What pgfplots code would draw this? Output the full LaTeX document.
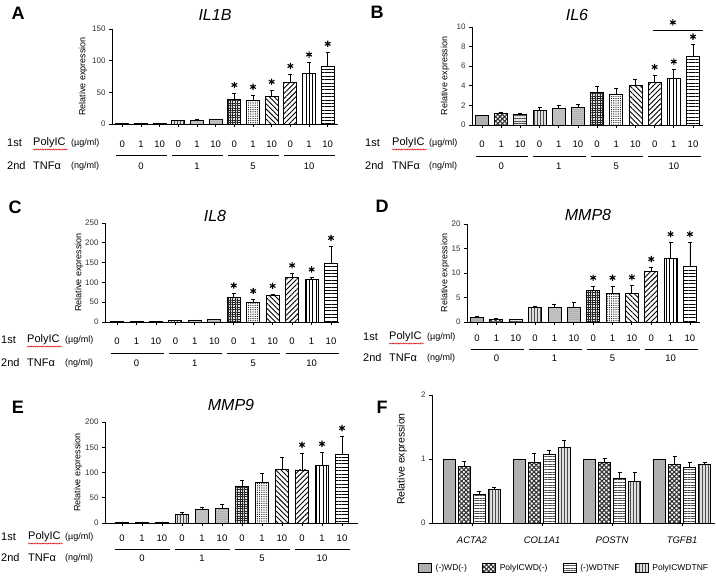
\documentclass[border=0pt]{standalone}
\usepackage{fontspec}
\setmainfont{Liberation Sans}
\usepackage{pgfplots}
\pgfplotsset{compat=1.18}
\usetikzlibrary{patterns.meta, decorations.pathmorphing}

\tikzset{
  s0/.style={fill=gray!62},
  s1/.style={preaction={fill=white}, pattern color=black!80, pattern={Hatch[angle=45,distance=3.2pt,line width=1.1pt]}},
  s2/.style={preaction={fill=gray!20}, pattern color=gray!60!black, pattern={Lines[angle=0,distance=2.6pt,line width=0.6pt]}},
  s3/.style={preaction={fill=gray!25}, pattern color=gray!60!black, pattern={Lines[angle=90,distance=3pt,line width=0.6pt]}},
  s4/.style={fill=gray!50},
  s5/.style={preaction={fill=gray!35}, pattern color=gray!40!black, pattern={Dots[distance=2pt,radius=0.5pt]}},
  s6/.style={preaction={fill=gray!20}, pattern color=gray!30!black, pattern={Hatch[angle=0,distance=2.4pt,line width=0.6pt]}},
  s7/.style={preaction={fill=white}, pattern color=black, pattern={Dots[distance=2.2pt,radius=0.6pt]}},
  s8/.style={preaction={fill=white}, pattern color=black, pattern={Lines[angle=-45,distance=3.6pt,line width=0.9pt]}},
  s9/.style={preaction={fill=white}, pattern color=black, pattern={Lines[angle=45,distance=3.6pt,line width=0.9pt]}},
  s10/.style={preaction={fill=white}, pattern color=black, pattern={Lines[angle=90,distance=3.4pt,line width=0.9pt]}},
  s11/.style={preaction={fill=white}, pattern color=black, pattern={Lines[angle=0,distance=3.4pt,line width=0.9pt]}},
  lab/.style={font=\fontsize{18}{20}\selectfont\bfseries},
  ttl/.style={font=\fontsize{16}{18}\selectfont\itshape},
  rowa/.style={font=\fontsize{11}{12}\selectfont, anchor=west, inner sep=0pt},
  rowb/.style={font=\fontsize{9}{10}\selectfont, anchor=west, inner sep=0pt},
  wavy/.style={red!85!black, line width=0.45pt, decorate, decoration={snake, amplitude=0.55pt, segment length=2.2pt}},
}

\pgfplotsset{
  /pgf/number format/assume math mode=true,
  base/.style={
    scale only axis, clip=false, anchor=south west,
    axis lines=left, axis line style={-, line width=0.9pt},
    every outer x axis line/.append style={-},
    every outer y axis line/.append style={-},
    tick align=outside, major tick length=3pt,
    tick style={black, line width=0.8pt},
    ymin=0, enlargelimits=false,
    yticklabel style={font=\fontsize{8}{9}\selectfont, text=black!80},
    ylabel={Relative expression},
    ylabel style={font=\fontsize{9}{10}\selectfont},
  },
  panel/.style={base,
    xtick={0,...,11},
    xticklabels={0,1,10,0,1,10,0,1,10,0,1,10},
    xticklabel style={font=\fontsize{9.5}{10}\selectfont, anchor=center, yshift=-16pt},
  },
  ylpos/.style={ylabel style={at={(axis description cs:#1,0.5)}, anchor=center}},
  fe/.style={error bars/y dir=plus, error bars/y explicit,
    error bars/error bar style={line width=0.8pt, black}},
  bb/.style={ybar, bar width=13pt, bar shift=0pt, draw=black, line width=0.9pt, fe},
  fb/.style={draw=black, line width=0.9pt,
    legend image code/.code={\draw[##1] (0pt,-4.5pt) rectangle (13pt,4.5pt);}},
  star/.style={only marks, mark=asterisk, mark size=3.2pt, black, line width=1.1pt, mark options={yshift=8pt}},
}

% group lines and TNF doses under the bars
\newcommand{\grows}[2]{%
  \draw[line width=0.8pt] ([yshift=-#1pt]axis cs:-0.33,0) -- ([yshift=-#1pt]axis cs:2.4,0);
  \draw[line width=0.8pt] ([yshift=-#1pt]axis cs:2.67,0) -- ([yshift=-#1pt]axis cs:5.4,0);
  \draw[line width=0.8pt] ([yshift=-#1pt]axis cs:5.67,0) -- ([yshift=-#1pt]axis cs:8.4,0);
  \draw[line width=0.8pt] ([yshift=-#1pt]axis cs:8.67,0) -- ([yshift=-#1pt]axis cs:11.4,0);
  \node[font=\fontsize{9.5}{10}\selectfont] at ([yshift=-#2pt]axis cs:1,0) {0};
  \node[font=\fontsize{9.5}{10}\selectfont] at ([yshift=-#2pt]axis cs:4,0) {1};
  \node[font=\fontsize{9.5}{10}\selectfont] at ([yshift=-#2pt]axis cs:7,0) {5};
  \node[font=\fontsize{9.5}{10}\selectfont] at ([yshift=-#2pt]axis cs:10,0) {10};
}

% row captions on the left
\newcommand{\rowlabels}[5]{%
  \node[rowa] at (#1pt,#4pt) {1st};
  \node[rowa] at (#2pt,#4pt) {PolyIC};
  \draw[wavy] ({#2pt},{#4pt-6.5pt}) -- ({#2pt+35pt},{#4pt-6.5pt});
  \node[rowb] at (#3pt,#4pt) {(µg/ml)};
  \node[rowa] at (#1pt,#5pt) {2nd};
  \node[rowa] at (#2pt,#5pt) {TNFα};
  \node[rowb] at (#3pt,#5pt) {(ng/ml)};
}

\begin{document}
\begin{tikzpicture}
\path[use as bounding box] (0,0) rectangle (716pt,576pt);

%% A: IL1B
\node[lab] at (18pt,563pt) {A};
\node[ttl] at (215pt,561pt) {IL1B};
\begin{axis}[panel, at={(112pt,452pt)}, width=226pt, height=95pt,
  xmin=-0.55, xmax=11.55, ymax=150, ytick={0,50,100,150}, ylpos=-0.128,
  xticklabel style={yshift=-1pt}]
\addplot[bb,s0] coordinates {(0,1.0) +- (0,0.2)};
\addplot[bb,s1] coordinates {(1,0.8) +- (0,0.2)};
\addplot[bb,s2] coordinates {(2,0.9) +- (0,0.2)};
\addplot[bb,s3] coordinates {(3,5.0) +- (0,0.8)};
\addplot[bb,s4] coordinates {(4,6.0) +- (0,0.8)};
\addplot[bb,s5] coordinates {(5,7.0) +- (0,1.0)};
\addplot[bb,s6] coordinates {(6,39) +- (0,10)};
\addplot[bb,s7] coordinates {(7,37) +- (0,9)};
\addplot[bb,s8] coordinates {(8,43.5) +- (0,10.5)};
\addplot[bb,s9] coordinates {(9,66) +- (0,13)};
\addplot[bb,s10] coordinates {(10,80) +- (0,17)};
\addplot[bb,s11] coordinates {(11,91.5) +- (0,22.5)};
\addplot[star] coordinates {(6,49) (7,46) (8,54) (9,79) (10,97) (11,114)};
\grows{31}{42}
\end{axis}
\rowlabels{7}{33}{71}{433}{410}

%% B: IL6
\node[lab] at (377pt,564pt) {B};
\node[ttl] at (577pt,561pt) {IL6};
\begin{axis}[panel, at={(472pt,451pt)}, width=231pt, height=98pt,
  xmin=-0.52, xmax=11.52, ymax=10, ytick={0,2,4,6,8,10}, ylpos=-0.117]
\addplot[bb,s0] coordinates {(0,1.0) +- (0,0)};
\addplot[bb,s1] coordinates {(1,1.15) +- (0,0.2)};
\addplot[bb,s2] coordinates {(2,1.05) +- (0,0.2)};
\addplot[bb,s3] coordinates {(3,1.45) +- (0,0.4)};
\addplot[bb,s4] coordinates {(4,1.7) +- (0,0.35)};
\addplot[bb,s5] coordinates {(5,1.75) +- (0,0.35)};
\addplot[bb,s6] coordinates {(6,3.35) +- (0,0.65)};
\addplot[bb,s7] coordinates {(7,3.15) +- (0,0.6)};
\addplot[bb,s8] coordinates {(8,4.0) +- (0,0.7)};
\addplot[bb,s9] coordinates {(9,4.3) +- (0,0.8)};
\addplot[bb,s10] coordinates {(10,4.8) +- (0,0.85)};
\addplot[bb,s11] coordinates {(11,7.0) +- (0,1.2)};
\addplot[star] coordinates {(9,5.1) (10,5.65) (11,8.2)};
\addplot[black, line width=0.9pt, mark=none] coordinates {(8.9,9.65) (11.5,9.65)};
\addplot[star] coordinates {(9.95,9.65)};
\grows{31}{41}
\end{axis}
\rowlabels{365}{392}{429}{433}{410}

%% C: IL8
\node[lab] at (15pt,369pt) {C};
\node[ttl] at (215pt,360pt) {IL8};
\begin{axis}[panel, at={(105pt,254pt)}, width=234pt, height=99pt,
  xmin=-0.62, xmax=11.41, ymax=250, ytick={0,50,100,150,200,250}, ylpos=-0.111]
\addplot[bb,s0] coordinates {(0,1) +- (0,0)};
\addplot[bb,s1] coordinates {(1,1) +- (0,0)};
\addplot[bb,s2] coordinates {(2,1) +- (0,0)};
\addplot[bb,s3] coordinates {(3,4) +- (0,0.8)};
\addplot[bb,s4] coordinates {(4,5) +- (0,0.8)};
\addplot[bb,s5] coordinates {(5,6) +- (0,1)};
\addplot[bb,s6] coordinates {(6,63) +- (0,9)};
\addplot[bb,s7] coordinates {(7,50) +- (0,8)};
\addplot[bb,s8] coordinates {(8,68) +- (0,3)};
\addplot[bb,s9] coordinates {(9,112) +- (0,11)};
\addplot[bb,s10] coordinates {(10,108.5) +- (0,4)};
\addplot[bb,s11] coordinates {(11,147) +- (0,45)};
\addplot[star] coordinates {(6,72) (7,58) (8,71) (9,123) (10,112.5) (11,192)};
\grows{31}{41}
\end{axis}
\rowlabels{1}{27}{65}{236}{213}

%% D: MMP8
\node[lab] at (382pt,370pt) {D};
\node[ttl] at (588pt,361pt) {MMP8};
\begin{axis}[panel, at={(467pt,254pt)}, width=233pt, height=98pt,
  xmin=-0.52, xmax=11.52, ymax=20, ytick={0,5,10,15,20}, ylpos=-0.094,
  xticklabel style={yshift=3pt}]
\addplot[bb,s0] coordinates {(0,1.0) +- (0,0.1)};
\addplot[bb,s1] coordinates {(1,0.6) +- (0,0.1)};
\addplot[bb,s2] coordinates {(2,0.55) +- (0,0.05)};
\addplot[bb,s3] coordinates {(3,2.9) +- (0,0.4)};
\addplot[bb,s4] coordinates {(4,2.9) +- (0,0.8)};
\addplot[bb,s5] coordinates {(5,2.9) +- (0,1.2)};
\addplot[bb,s6] coordinates {(6,6.4) +- (0,1.0)};
\addplot[bb,s7] coordinates {(7,5.8) +- (0,1.6)};
\addplot[bb,s8] coordinates {(8,5.9) +- (0,1.6)};
\addplot[bb,s9] coordinates {(9,10.4) +- (0,0.8)};
\addplot[bb,s10] coordinates {(10,12.9) +- (0,3.4)};
\addplot[bb,s11] coordinates {(11,11.4) +- (0,4.9)};
\addplot[star] coordinates {(6,7.4) (7,7.4) (8,7.5) (9,11.2) (10,16.3) (11,16.3)};
\grows{27}{36}
\end{axis}
\rowlabels{363}{389}{427}{239}{218}

%% E: MMP9
\node[lab] at (18pt,169pt) {E};
\node[ttl] at (231pt,171pt) {MMP9};
\begin{axis}[panel, at={(105pt,53pt)}, width=253pt, height=101pt,
  xmin=-0.85, xmax=11.8, ymax=200, ytick={0,50,100,150,200}, ylpos=-0.107,
  xticklabel style={yshift=4pt}]
\addplot[bb,s0] coordinates {(0,1) +- (0,0.5)};
\addplot[bb,s1] coordinates {(1,1) +- (0,0.5)};
\addplot[bb,s2] coordinates {(2,1.5) +- (0,0.5)};
\addplot[bb,s3] coordinates {(3,16) +- (0,5)};
\addplot[bb,s4] coordinates {(4,26) +- (0,5)};
\addplot[bb,s5] coordinates {(5,28) +- (0,8.5)};
\addplot[bb,s6] coordinates {(6,72) +- (0,12)};
\addplot[bb,s7] coordinates {(7,81) +- (0,17)};
\addplot[bb,s8] coordinates {(8,106) +- (0,25)};
\addplot[bb,s9] coordinates {(9,105) +- (0,34)};
\addplot[bb,s10] coordinates {(10,114) +- (0,27)};
\addplot[bb,s11] coordinates {(11,136) +- (0,36)};
\addplot[star] coordinates {(9,139) (10,141) (11,172)};
\grows{26}{35}
\end{axis}
\rowlabels{1}{28}{65}{39}{18}

%% F
\node[lab] at (382pt,169pt) {F};
\begin{axis}[base, at={(432pt,53pt)}, width=283pt, height=128pt,
  xmin=-0.57, xmax=3.47, ymax=2, ytick={0,1,2},
  xtick={0,1,2,3}, xticklabels={ACTA2,COL1A1,POSTN,TGFB1},
  xticklabel style={font=\fontsize{9.5}{10}\selectfont\itshape, yshift=-7pt},
  ylabel style={font=\fontsize{10.5}{11}\selectfont}, ylpos=-0.106,
  ybar=3pt, bar width=12pt,
  legend columns=4, legend cell align=left,
  legend style={at={(axis description cs:-0.049,-0.352)}, anchor=west, draw=none, fill=none,
    inner sep=0pt, font=\fontsize{8.5}{9}\selectfont, nodes={inner sep=0.5pt},
    /tikz/every odd column/.append style={column sep=3pt},
    /tikz/every even column/.append style={column sep=15pt}}]
\addplot[fb,s0] coordinates {(0,1.0) (1,1.0) (2,1.0) (3,1.0)};
\addlegendentry{(-)WD(-)}
\addplot[fb,fe,s1] coordinates {(0,0.89) +- (0,0.07) (1,0.95) +- (0,0.14) (2,0.94) +- (0,0.08) (3,0.92) +- (0,0.13)};
\addlegendentry{PolyICWD(-)}
\addplot[fb,fe,preaction={fill=white}, pattern color=gray!60!black, pattern={Lines[angle=0,distance=2.6pt,line width=0.6pt]}]
  coordinates {(0,0.44) +- (0,0.06) (1,1.07) +- (0,0.07) (2,0.69) +- (0,0.11) (3,0.87) +- (0,0.08)};
\addlegendentry{(-)WDTNF}
\addplot[fb,fe,s3] coordinates {(0,0.52) +- (0,0.04) (1,1.18) +- (0,0.11) (2,0.65) +- (0,0.14) (3,0.91) +- (0,0.04)};
\addlegendentry{PolyICWDTNF}
\end{axis}
\end{tikzpicture}
\end{document}
